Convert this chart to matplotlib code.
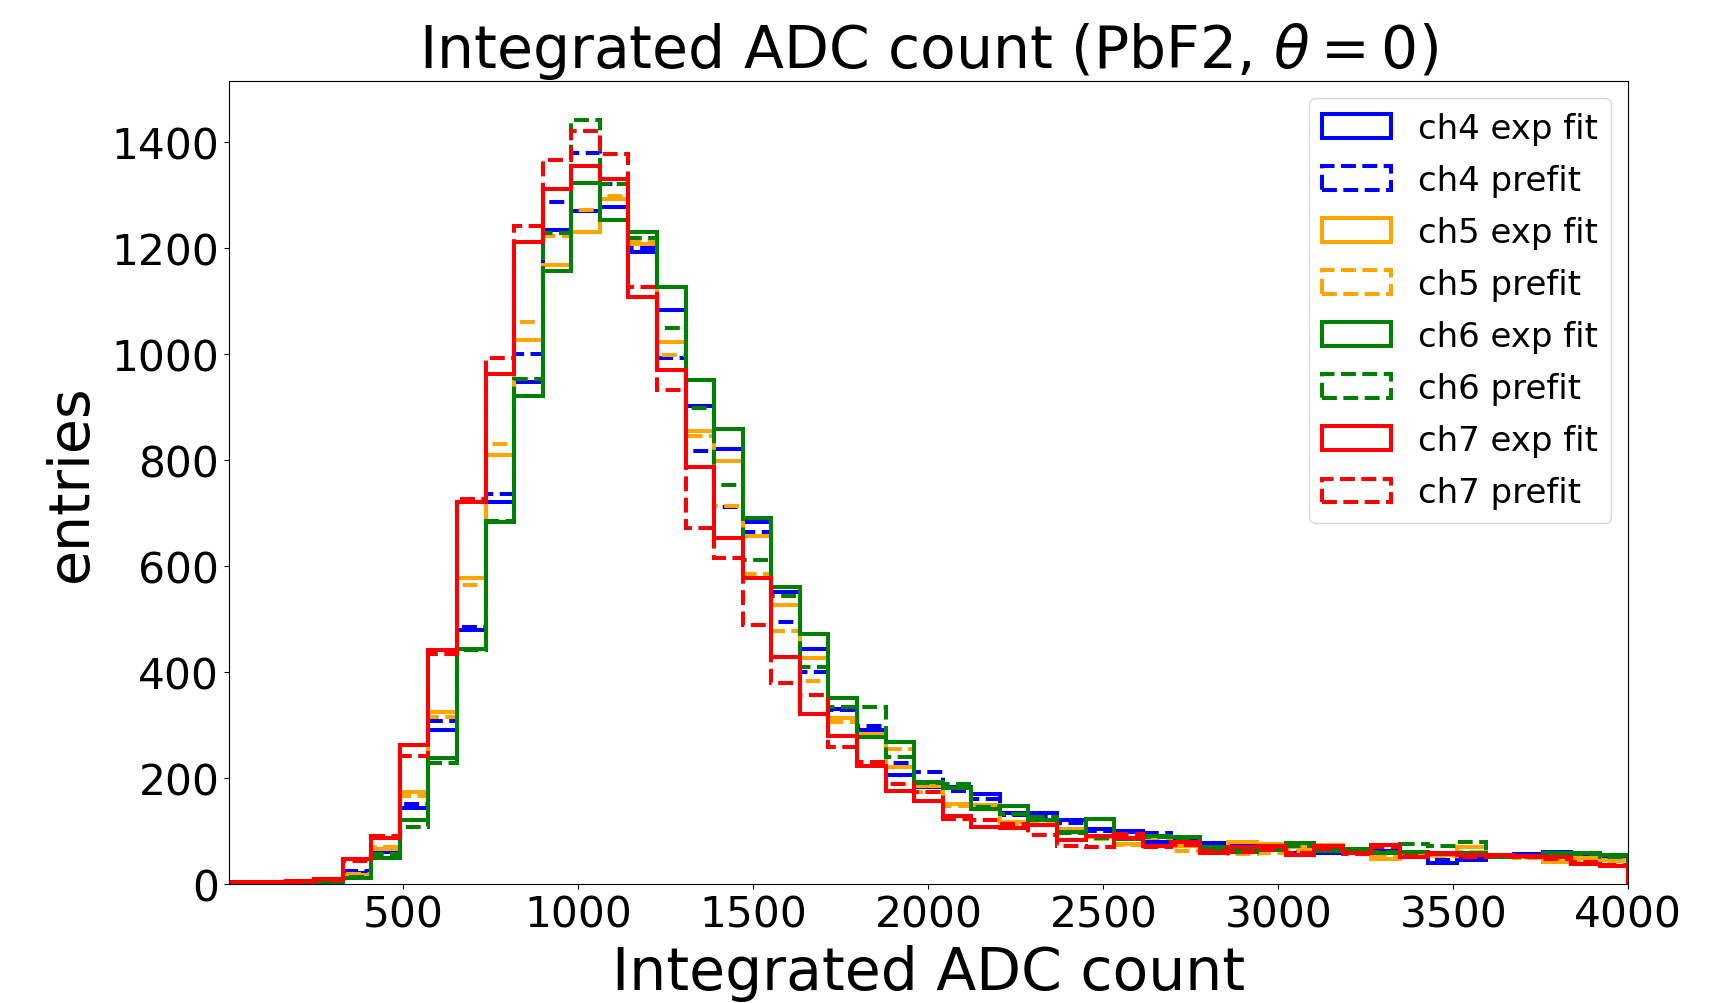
import numpy as np
import matplotlib
matplotlib.use("Agg")
import matplotlib.pyplot as plt

# 49 bins between 0 and 4000
bin_edges = np.linspace(0, 4000, 50)

# entries per bin
ch4_exp = [1, 1, 2, 4, 20, 59, 142, 289, 478, 721, 946, 1233, 1270, 1277, 1192, 1082, 902, 821,
           682, 550, 443, 330, 290, 205, 182, 182, 169, 134, 134, 119, 103, 100, 78, 81, 76, 77,
           70, 58, 58, 62, 62, 58, 39, 45, 52, 56, 60, 55, 50]
ch4_pre = [1, 1, 2, 5, 24, 62, 150, 306, 484, 736, 999, 1286, 1378, 1321, 1200, 991, 817, 710,
           663, 493, 400, 327, 298, 228, 210, 175, 160, 130, 128, 115, 100, 98, 96, 78, 74, 75,
           68, 60, 62, 60, 60, 55, 45, 48, 50, 54, 58, 52, 48]
ch5_exp = [1, 1, 2, 4, 16, 65, 172, 323, 576, 808, 1025, 1167, 1229, 1292, 1208, 1022, 855, 797,
           656, 525, 426, 312, 282, 219, 185, 150, 148, 116, 119, 103, 87, 75, 90, 70, 59, 79,
           75, 68, 73, 62, 47, 56, 54, 68, 54, 51, 40, 49, 45]
ch5_pre = [1, 1, 2, 5, 18, 68, 165, 315, 564, 830, 1060, 1223, 1272, 1298, 1213, 997, 845, 713,
           584, 476, 383, 305, 280, 253, 173, 147, 145, 112, 115, 98, 84, 72, 85, 62, 60, 55,
           57, 62, 65, 58, 50, 55, 52, 60, 50, 48, 42, 45, 42]
ch6_exp = [1, 1, 1, 3, 10, 49, 119, 236, 442, 683, 921, 1157, 1323, 1252, 1230, 1125, 951, 858,
           690, 559, 471, 350, 276, 268, 192, 180, 141, 146, 119, 97, 122, 84, 89, 87, 68, 62,
           66, 76, 62, 65, 58, 60, 55, 58, 50, 52, 58, 57, 53]
ch6_pre = [1, 1, 1, 3, 12, 55, 106, 228, 440, 685, 953, 1228, 1442, 1321, 1219, 1049, 897, 752,
           610, 542, 408, 334, 334, 238, 190, 187, 144, 131, 125, 95, 85, 86, 88, 82, 65, 60,
           64, 70, 64, 62, 60, 74, 70, 78, 52, 50, 56, 55, 50]
ch7_exp = [3, 2, 4, 8, 46, 85, 262, 440, 721, 962, 1211, 1310, 1354, 1329, 1107, 970, 787, 652,
           576, 428, 320, 278, 222, 175, 156, 128, 106, 104, 110, 83, 89, 85, 71, 78, 58, 68,
           71, 53, 71, 58, 72, 50, 58, 53, 54, 52, 50, 36, 33]
ch7_pre = [2, 1, 3, 6, 42, 90, 241, 433, 726, 991, 1241, 1366, 1420, 1376, 1126, 931, 671, 614,
           488, 379, 355, 258, 230, 188, 172, 122, 119, 112, 91, 71, 69, 94, 68, 72, 62, 60,
           64, 58, 66, 55, 68, 52, 55, 50, 52, 50, 47, 40, 35]

series = [
    ("ch4 exp fit", ch4_exp, "blue", "-"),
    ("ch4 prefit", ch4_pre, "blue", "--"),
    ("ch5 exp fit", ch5_exp, "orange", "-"),
    ("ch5 prefit", ch5_pre, "orange", "--"),
    ("ch6 exp fit", ch6_exp, "green", "-"),
    ("ch6 prefit", ch6_pre, "green", "--"),
    ("ch7 exp fit", ch7_exp, "red", "-"),
    ("ch7 prefit", ch7_pre, "red", "--"),
]

centers = 0.5 * (bin_edges[:-1] + bin_edges[1:])

fig = plt.figure(figsize=(17.36, 10.04), dpi=100)
ax = fig.add_subplot(111)
fig.subplots_adjust(left=0.132, right=0.938, bottom=0.119, top=0.918)

for label, counts, color, ls in series:
    ax.hist(centers, bins=bin_edges, weights=counts, histtype="step",
            color=color, linestyle=ls, linewidth=2.9, label=label)

ax.set_xlim(2, 4000)
ax.set_title(r"Integrated ADC count (PbF2, $\theta=0$)", fontsize=42)
ax.set_xlabel("Integrated ADC count", fontsize=42, labelpad=6)
ax.set_ylabel("entries", fontsize=41, labelpad=9)
ax.tick_params(axis="both", labelsize=30.5)
ax.legend(loc="upper right", fontsize=24.5, labelspacing=0.56)

fig.savefig("out.png", dpi=100)
